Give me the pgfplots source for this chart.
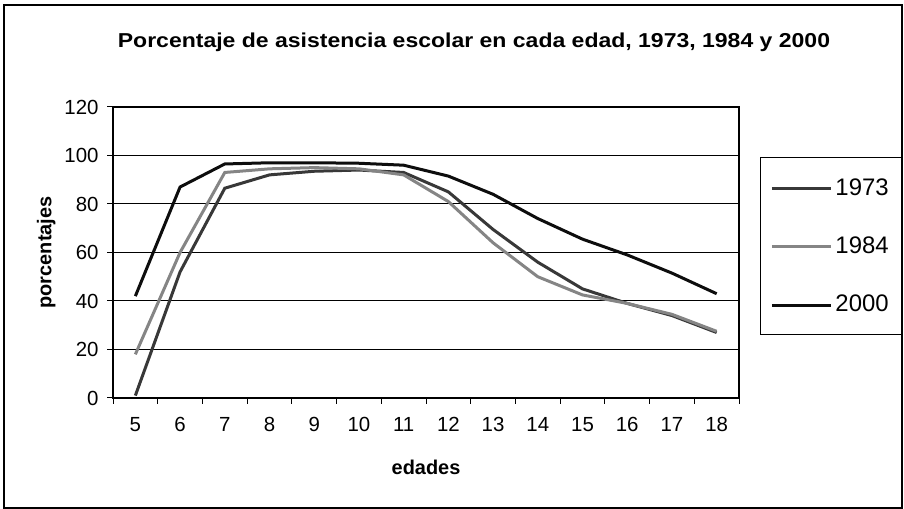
\documentclass[border=0pt]{standalone}
\usepackage{fontspec}
\setmainfont{Liberation Sans}
\usepackage{graphicx}
\usepackage{pgfplots}
\pgfplotsset{compat=1.18}
\definecolor{c1973}{gray}{0.22}
\definecolor{c1984}{gray}{0.52}
\definecolor{c2000}{gray}{0.05}
\begin{document}
\begin{tikzpicture}[x=1bp,y=1bp]
\useasboundingbox (0,0) rectangle (904,509);
\draw[line width=1.2bp] (4,1) rectangle (902,504);
\node[font=\fontsize{20.2}{23}\bfseries\selectfont] at (474,467) {\scalebox{1.143}[1]{Porcentaje de asistencia escolar en cada edad, 1973, 1984 y 2000}};
\begin{axis}[
  at={(113bp,111bp)}, anchor=south west,
  scale only axis, width=626bp, height=291bp,
  xmin=4.5, xmax=18.5, ymin=0, ymax=120,
  xtick={5,...,18}, major x tick style={draw=none},
  minor xtick={4.5,5.5,...,18.5},
  ytick={0,20,...,120},
  tick align=outside, xtick pos=bottom, ytick pos=left,
  major tick length=6bp, minor tick length=6bp,
  tick style={black, line width=1bp},
  ymajorgrids, grid style={black, line width=1bp},
  axis line style={black, line width=1.2bp},
  /pgf/number format/assume math mode=true,
  ticklabel style={font=\fontsize{20.5}{22}\selectfont},
  xticklabel style={yshift=-10bp},
  yticklabel style={xshift=-5bp},
  xlabel={edades}, ylabel={porcentajes},
  label style={font=\fontsize{20}{22}\bfseries\selectfont},
  xlabel style={yshift=-21bp},
  ylabel style={yshift=2bp},
  legend style={at={(1.0335,0.828)}, anchor=north west, draw=black, line width=1bp,
    font=\fontsize{24}{26}\selectfont, row sep=40bp, inner xsep=10bp, inner ysep=21bp,
    nodes={inner xsep=3bp, inner ysep=0bp}},
  legend cell align=left,
  legend image code/.code={\draw[#1] (0bp,-1bp) -- (59bp,-1bp);},
]
\addplot[c1973, line width=3bp] coordinates {
(5,1) (6,52) (7,86.5) (8,92) (9,93.5) (10,94) (11,93) (12,85) (13,69.5) (14,56) (15,45) (16,39) (17,34) (18,27)};
\addlegendentry{1973}
\addplot[c1984, line width=3bp] coordinates {
(5,18) (6,60) (7,93) (8,94.5) (9,95) (10,94.5) (11,92) (12,81) (13,64) (14,50) (15,42.5) (16,39) (17,34.5) (18,27.5)};
\addlegendentry{1984}
\addplot[c2000, line width=3bp] coordinates {
(5,42) (6,87) (7,96.5) (8,97) (9,97) (10,96.8) (11,96) (12,91.5) (13,84) (14,74) (15,65.5) (16,59) (17,51.5) (18,43)};
\addlegendentry{2000}
\end{axis}
\end{tikzpicture}
\end{document}
